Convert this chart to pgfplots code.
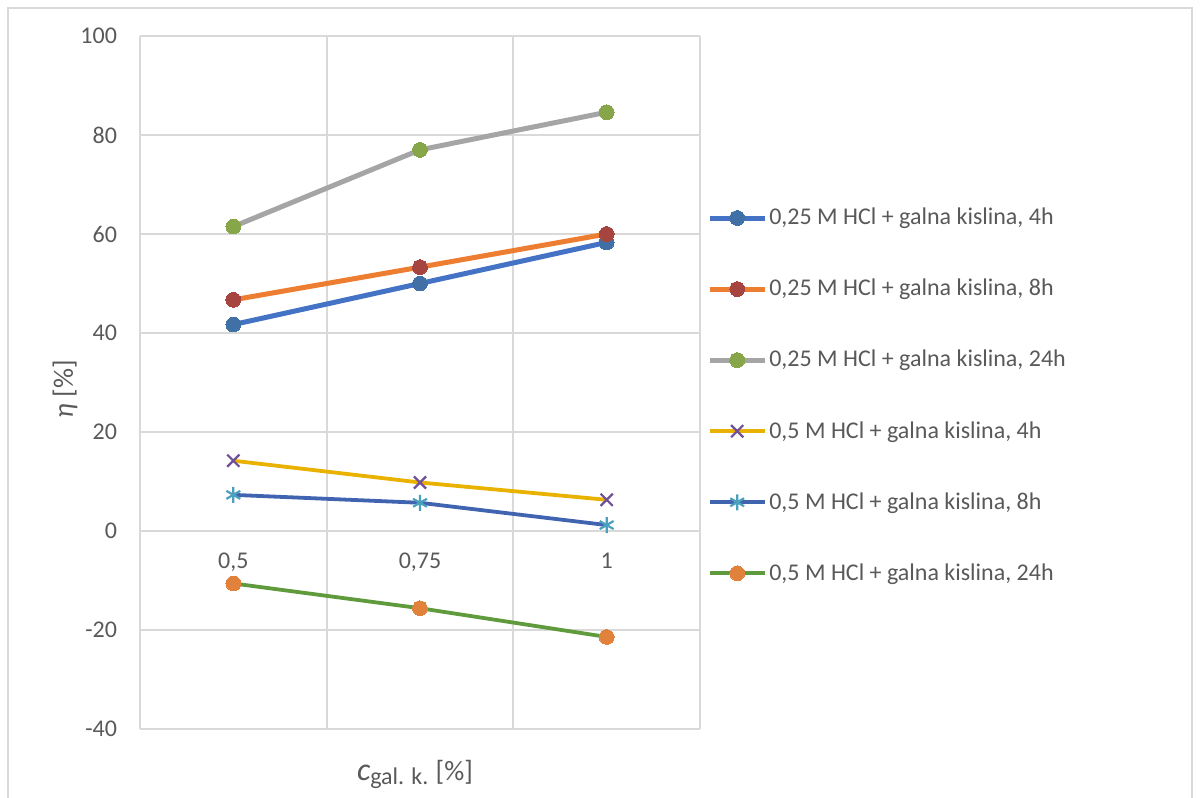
\documentclass[border=0pt]{standalone}
\usepackage{fontspec}
\setmainfont{Carlito}
\usepackage{pgfplots}
\pgfplotsset{compat=1.18}
\definecolor{textgray}{RGB}{89,89,89}
\definecolor{gridgray}{RGB}{217,217,217}
\definecolor{sA}{RGB}{68,114,196}
\definecolor{mA}{RGB}{65,112,166}
\definecolor{sB}{RGB}{237,125,49}
\definecolor{mB}{RGB}{166,68,63}
\definecolor{sC}{RGB}{165,165,165}
\definecolor{mC}{RGB}{135,166,74}
\definecolor{sD}{RGB}{234,178,0}
\definecolor{mD}{RGB}{112,80,150}
\definecolor{sE}{RGB}{64,100,176}
\definecolor{mE}{RGB}{75,160,190}
\definecolor{sF}{RGB}{95,155,60}
\definecolor{mF}{RGB}{225,130,60}
\begin{document}
\begin{tikzpicture}
\useasboundingbox (0,0) rectangle (600pt,399pt);
\draw[gridgray, line width=0.75pt] (4pt,-5pt) rectangle (596pt,395pt);
\begin{axis}[
  at={(70pt,34.5pt)}, anchor=south west,
  scale only axis, width=280pt, height=346.5pt,
  xmin=-0.5, xmax=2.5, ymin=-40, ymax=100,
  xtick={0,1,2}, xticklabels={0{,}5,0{,}75,1},
  ytick={-40,-20,0,20,40,60,80,100},
  minor xtick={-0.5,0.5,1.5,2.5},
  xminorgrids=true, ymajorgrids=true, xmajorgrids=false,
  grid style={gridgray, line width=0.75pt},
  minor grid style={gridgray, line width=0.9pt},
  axis x line*=middle, axis y line*=left,
  axis line style={draw=none},
  major tick length=0pt, minor tick length=0pt,
  /pgf/number format/assume math mode=true,
  tick label style={font=\fontsize{12}{14}\selectfont, text=textgray},
  xticklabel style={yshift=-7.5pt},
  yticklabel style={xshift=-8pt},
  xlabel={\fontsize{16}{18}\selectfont\textit{c}\raisebox{-2pt}{\fontsize{12}{12}\selectfont gal. k.} {\fontsize{14}{16}\selectfont[\%]}},
  xlabel style={at={(axis description cs:0.491,-0.066)}, anchor=center, text=textgray},
  ylabel={\fontsize{14}{16}\selectfont\textit{η} [\%]},
  ylabel style={at={(axis description cs:-0.134,0.49)}, anchor=center, rotate=0, text=textgray},
  legend style={at={(1.012,0.481)}, anchor=west, draw=none, fill=none,
    font=\fontsize{12}{14}\selectfont, text=textgray, row sep=23.7pt,
    inner sep=0pt, nodes={inner sep=1pt}},
  legend cell align=left,
  legend image code/.code={\draw[mark repeat=2,mark phase=2] plot coordinates {(0cm,0cm) (0.485cm,0cm) (0.97cm,0cm)};},
]
\addplot[sA, line width=2.5pt, mark=*, mark size=3.7pt, mark options={fill=mA, draw=mA, line width=0pt}]
  coordinates {(0,41.7) (1,50.0) (2,58.3)};
\addlegendentry{0,25 M HCl + galna kislina, 4h}
\addplot[sB, line width=2.5pt, mark=*, mark size=3.7pt, mark options={fill=mB, draw=mB, line width=0pt}]
  coordinates {(0,46.7) (1,53.3) (2,60.0)};
\addlegendentry{0,25 M HCl + galna kislina, 8h}
\addplot[sC, line width=2.5pt, mark=*, mark size=3.7pt, mark options={fill=mC, draw=mC, line width=0pt}]
  coordinates {(0,61.5) (1,77.0) (2,84.6)};
\addlegendentry{0,25 M HCl + galna kislina, 24h}
\addplot[sD, line width=1.9pt, mark=x, mark size=4.3pt, mark options={draw=mD, line width=1.1pt}]
  coordinates {(0,14.2) (1,9.8) (2,6.3)};
\addlegendentry{0,5 M HCl + galna kislina, 4h}
\addplot[sE, line width=1.9pt, mark=asterisk, mark size=4.0pt, mark options={draw=mE, line width=1.1pt}]
  coordinates {(0,7.3) (1,5.7) (2,1.2)};
\addlegendentry{0,5 M HCl + galna kislina, 8h}
\addplot[sF, line width=1.9pt, mark=*, mark size=3.7pt, mark options={fill=mF, draw=mF, line width=0pt}]
  coordinates {(0,-10.6) (1,-15.6) (2,-21.4)};
\addlegendentry{0,5 M HCl + galna kislina, 24h}
\end{axis}
\end{tikzpicture}
\end{document}
